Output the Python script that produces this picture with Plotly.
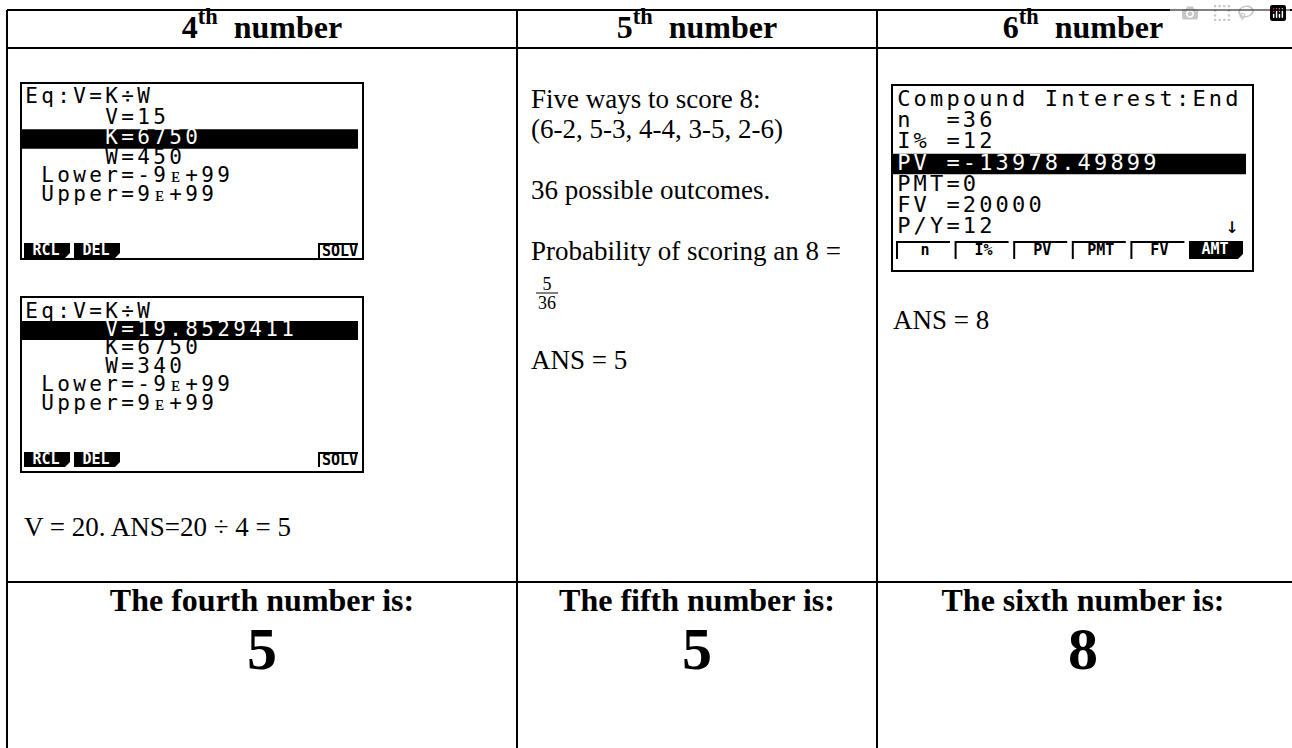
import plotly.graph_objects as go

FIG_W, FIG_H = 1292, 748
SERIF = "Liberation Serif, Times New Roman, serif"
MONO = "DejaVu Sans Mono, monospace"

# ---------------- table grid ----------------
col_edges = [7, 517, 877, 1300]
row_edges = [10, 48, 582, 760]

# ---------------- text content ----------------
header_ordinals = ["4", "5", "6"]
header_suffix = "th"
header_word = "number"

result_labels = ["The fourth number is:", "The fifth number is:", "The sixth number is:"]
result_values = ["5", "5", "8"]

note_col1 = "V = 20. ANS=20 \u00f7 4 = 5"
notes_col2 = ["Five ways to score 8:", "(6-2, 5-3, 4-4, 3-5, 2-6)",
              "36 possible outcomes.", "Probability of scoring an 8 =", "ANS = 5"]
fraction_num = "5"
fraction_den = "36"
note_col3 = "ANS = 8"

# ---------------- calculator screens ----------------
screen1_rows = ["Eq:V=K\u00f7W", "     V=15", "     K=6750", "     W=450",
                " Lower=-9\u1d07+99", " Upper=9\u1d07+99"]
screen1_inverted_row = 2
screen1_keys = ["RCL", "DEL", "", "", "", "SOLV"]
screen1_key_dark = [True, True, False, False, False, False]

screen2_rows = ["Eq:V=K\u00f7W", "     V=19.8529411", "     K=6750", "     W=340",
                " Lower=-9\u1d07+99", " Upper=9\u1d07+99"]
screen2_inverted_row = 1
screen2_keys = ["RCL", "DEL", "", "", "", "SOLV"]
screen2_key_dark = [True, True, False, False, False, False]

screen3_rows = ["Compound Interest:End", "n  =36", "I% =12", "PV =-13978.49899",
                "PMT=0", "FV =20000", "P/Y=12" + " " * 14 + "\u2193"]
screen3_inverted_row = 3
screen3_keys = ["n", "I%", "PV", "PMT", "FV", "AMT"]
screen3_key_dark = [False, False, False, False, False, True]

# geometry of each screenshot (layout only)
geo1 = dict(box=(21, 83, 363, 259), ink0=25, pitch=16.0,
            rows=[98, 118.5, 139, 158.5, 177, 196], row_h=19.5, bar_right=358,
            key_left=24, key_pitch=50, key_w=46, key_y=(243, 258), key_right=(318, 358), fs=21)
geo2 = dict(box=(21, 297, 363, 472), ink0=25, pitch=16.0,
            rows=[312.5, 330.5, 349, 367.5, 386, 404.5], row_h=19, bar_right=358,
            key_left=24, key_pitch=50, key_w=46, key_y=(452, 467), key_right=(318, 358), fs=21)
geo3 = dict(box=(892, 85, 1253, 271), ink0=897, pitch=16.4,
            rows=[100.5, 121.5, 142.5, 164, 185, 206, 227.5], row_h=20.5, bar_right=1246,
            key_left=896, key_pitch=58.6, key_w=54, key_y=(241, 259), key_right=None, fs=22)

fig = go.Figure()
shapes = []


def add_text(xs, ys, texts, size, family, color="black", weight="normal", pos="middle center"):
    if not texts:
        return
    fig.add_trace(go.Scatter(
        x=xs, y=ys, text=texts, mode="text", textposition=pos,
        textfont=dict(size=size, family=family, color=color, weight=weight),
        hoverinfo="skip", showlegend=False, cliponaxis=False))


# table lines
for y in row_edges:
    shapes.append(dict(type="line", x0=col_edges[0], x1=col_edges[-1], y0=y, y1=y,
                       line=dict(color="black", width=2), layer="below"))
for x in col_edges:
    shapes.append(dict(type="line", x0=x, x1=x, y0=row_edges[0], y1=row_edges[-1],
                       line=dict(color="black", width=2), layer="below"))

centers = [(col_edges[i] + col_edges[i + 1]) / 2 for i in range(3)]
centers[2] = 1083

# headers
add_text(centers, [29.5] * 3,
         ["<b>%s<sup>%s</sup>\u00a0\u00a0%s</b>" % (o, header_suffix, header_word) for o in header_ordinals],
         32, SERIF, weight="bold")

# results
add_text(centers, [602.5] * 3, ["<b>%s</b>" % t for t in result_labels], 32, SERIF, weight="bold")
add_text(centers, [653.5] * 3, ["<b>%s</b>" % t for t in result_values], 60, SERIF, weight="bold")

# column notes
add_text([24], [529], [note_col1], 27, SERIF, pos="middle right")
col2_y = [101, 131, 192.5, 253.5, 362.7]
add_text([531] * len(notes_col2), col2_y, notes_col2, 27, SERIF, pos="middle right")
add_text([547, 547], [285.5, 304.5], [fraction_num, fraction_den], 18, SERIF)
shapes.append(dict(type="line", x0=536, x1=558, y0=293, y1=293,
                   line=dict(color="black", width=1), layer="below"))
add_text([893], [322.3], [note_col3], 27, SERIF, pos="middle right")


def draw_screen(rows, inv_row, keys, key_dark, g):
    bx0, by0, bx1, by1 = g["box"]
    shapes.append(dict(type="rect", x0=bx0, x1=bx1, y0=by0, y1=by1,
                       line=dict(color="black", width=2), fillcolor="white", layer="below"))
    yc = g["rows"][inv_row]
    shapes.append(dict(type="rect", x0=bx0 + 1, x1=g["bar_right"], y0=yc - g["row_h"] / 2,
                       y1=yc + g["row_h"] / 2, line=dict(width=0), fillcolor="black", layer="below"))
    bx, by, bt, wx, wy, wt = [], [], [], [], [], []
    for r, line in enumerate(rows):
        for c, ch in enumerate(line):
            if ch == " ":
                continue
            x = g["ink0"] + c * g["pitch"] + g["pitch"] * 5 / 12
            if r == inv_row:
                wx.append(x); wy.append(g["rows"][r]); wt.append(ch)
            else:
                bx.append(x); by.append(g["rows"][r]); bt.append(ch)
    add_text(bx, by, bt, g["fs"], MONO)
    add_text(wx, wy, wt, g["fs"], MONO, color="white")
    ky0, ky1 = g["key_y"]
    kx, ky, kt, kwx, kwy, kwt = [], [], [], [], [], []
    for i, (lab, dark) in enumerate(zip(keys, key_dark)):
        if not lab:
            continue
        x0 = g["key_left"] + i * g["key_pitch"]
        x1 = x0 + g["key_w"]
        if g["key_right"] is not None and i == len(keys) - 1:
            x0, x1 = g["key_right"]
        n = 5
        if dark:
            path = "M %f,%f L %f,%f L %f,%f L %f,%f L %f,%f Z" % (
                x0, ky0, x1, ky0, x1, ky1 - n, x1 - n, ky1, x0, ky1)
            shapes.append(dict(type="path", path=path, fillcolor="black",
                               line=dict(width=0), layer="below"))
            kwx.append((x0 + x1) / 2 - 1); kwy.append((ky0 + ky1) / 2 + 0.5); kwt.append(lab)
        else:
            path = "M %f,%f L %f,%f L %f,%f" % (x0 + 1, ky1, x0 + 1, ky0 + 1, x1, ky0 + 1)
            shapes.append(dict(type="path", path=path, line=dict(color="black", width=2),
                               layer="below"))
            kx.append((x0 + x1) / 2 + 2); ky.append((ky0 + ky1) / 2 + 1.5); kt.append(lab)
    add_text(kx, ky, kt, 15, MONO, weight="bold")
    add_text(kwx, kwy, kwt, 15, MONO, color="white", weight="bold")


draw_screen(screen1_rows, screen1_inverted_row, screen1_keys, screen1_key_dark, geo1)
draw_screen(screen2_rows, screen2_inverted_row, screen2_keys, screen2_key_dark, geo2)
draw_screen(screen3_rows, screen3_inverted_row, screen3_keys, screen3_key_dark, geo3)

fig.update_layout(
    width=FIG_W, height=FIG_H, margin=dict(l=0, r=0, t=0, b=0, pad=0),
    paper_bgcolor="white", plot_bgcolor="white", showlegend=False,
    xaxis=dict(range=[0, FIG_W], visible=False, fixedrange=True),
    yaxis=dict(range=[FIG_H, 0], visible=False, fixedrange=True),
    shapes=shapes,
)

fig.write_html("out.html", post_script="document.body.style.margin='0';document.body.style.overflow='hidden';")
